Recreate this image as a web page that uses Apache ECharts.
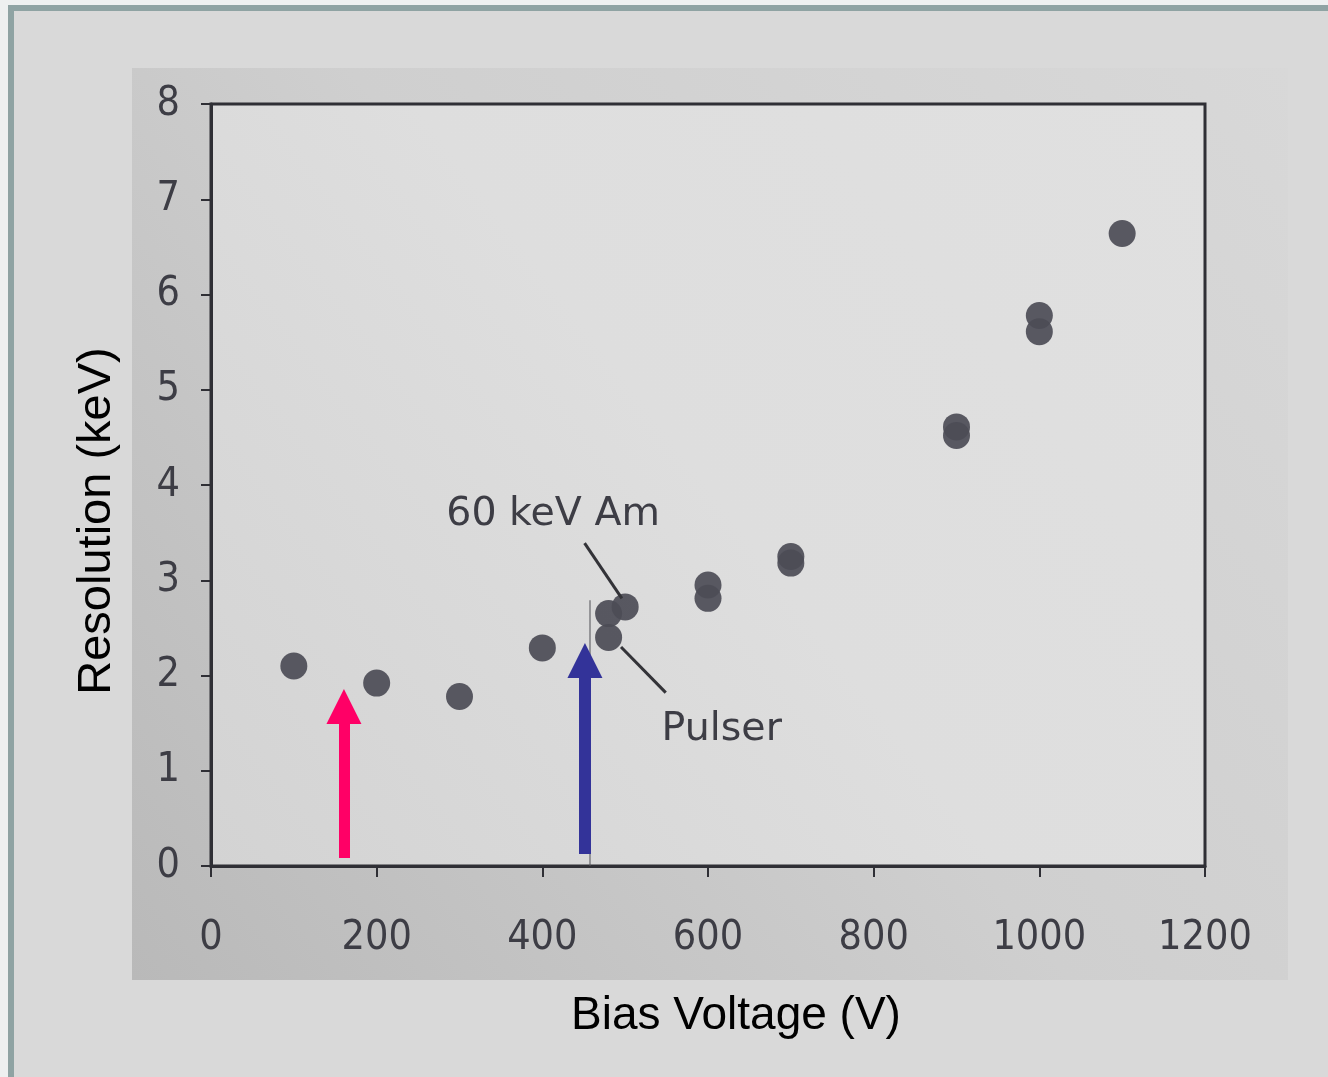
<!DOCTYPE html>
<html><head><meta charset="utf-8">
<script src="https://cdn.jsdelivr.net/npm/echarts@6/dist/echarts.min.js"></script>
<style>html,body{margin:0;padding:0;background:#eef0f0;} #c{width:1328px;height:1077px;}</style>
</head><body><div id="c"></div>
<script>
// ---- data ----
const xAxisRange = [0, 1200];
const yAxisRange = [0, 8];
const amVoltage = [100, 200, 300, 400, 480, 500, 600, 700, 900, 1000, 1100];
const amResolution = [2.10, 1.92, 1.78, 2.29, 2.65, 2.72, 2.95, 3.25, 4.61, 5.78, 6.64];
const pulserVoltage = [480, 600, 700, 900, 1000];
const pulserResolution = [2.40, 2.81, 3.18, 4.52, 5.61];
const annotationLabels = ['60 keV Am', 'Pulser'];
const annotationAnchors = [[284, 3.69], [544, 1.43]];
const leaderLines = [[[451, 3.39], [496, 2.81]], [[495, 2.30], [549, 1.82]]];
const arrowPink = [[160.5, 0.084], [160.5, 1.675]];
const arrowBlue = [[451.4, 0.126], [451.4, 2.157]];
const penMark = [[457.4, 2.79], [457.4, 0.0]];
const xTitle = 'Bias Voltage (V)';
const yTitle = 'Resolution (keV)';

const amData = amVoltage.map((v, i) => [v, amResolution[i]]);
const pulserData = pulserVoltage.map((v, i) => [v, pulserResolution[i]]);

const chart = echarts.init(document.getElementById('c'), null, {renderer: 'canvas'});
const tickFont = "'DejaVu Sans Condensed', 'DejaVu Sans', sans-serif";
const inkColor = '#3d3d45';
const dotStyle = {color: '#4c4c56', opacity: 0.92};

chart.setOption({
  animation: false,
  backgroundColor: 'transparent',
  graphic: [
    {type: 'rect', z: -10, shape: {x: 11, y: 8, width: 1340, height: 1100},
     style: {fill: '#d9d9d9', stroke: '#8fa3a3', lineWidth: 6}},
    {type: 'rect', z: -9, shape: {x: 132, y: 68, width: 1156, height: 912},
     style: {fill: {type: 'linear', x: 0, y: 1, x2: 1, y2: 0,
       colorStops: [{offset: 0, color: '#b9b9b9'}, {offset: 0.5, color: '#cfcfcf'}, {offset: 1, color: '#d8d8d8'}]}}},
    {type: 'text', x: 97, y: 521, rotation: Math.PI / 2,
     style: {text: yTitle, font: "47px 'Liberation Sans', Arial, sans-serif", fill: '#000', align: 'center', verticalAlign: 'middle'}},
    {type: 'text', x: 736, y: 1016,
     style: {text: xTitle, font: "46px 'Liberation Sans', Arial, sans-serif", fill: '#000', align: 'center', verticalAlign: 'middle'}}
  ],
  grid: {left: 211, right: 123, top: 104, bottom: 211, show: true,
    backgroundColor: {type: 'linear', x: 0, y: 1, x2: 1, y2: 0,
      colorStops: [{offset: 0, color: '#d3d3d3'}, {offset: 0.5, color: '#dedede'}, {offset: 1, color: '#e0e0e0'}]},
    borderColor: '#2f2f35', borderWidth: 3},
  xAxis: {
    type: 'value', min: xAxisRange[0], max: xAxisRange[1], interval: 200,
    axisLine: {show: true, onZero: false, lineStyle: {color: '#2f2f35', width: 3}},
    axisTick: {show: true, length: 11, lineStyle: {color: '#2f2f35', width: 2}},
    splitLine: {show: false},
    axisLabel: {margin: 52, fontSize: 41, fontFamily: tickFont, color: inkColor, formatter: v => String(v)}
  },
  yAxis: {
    type: 'value', min: yAxisRange[0], max: yAxisRange[1], interval: 1,
    axisLine: {show: true, onZero: false, lineStyle: {color: '#2f2f35', width: 3}},
    axisTick: {show: true, length: 10, lineStyle: {color: '#2f2f35', width: 2}},
    splitLine: {show: false},
    axisLabel: {margin: 31, fontSize: 41, fontFamily: tickFont, color: inkColor}
  },
  series: [
    {name: '60 keV Am', type: 'scatter', data: amData, symbolSize: 27, itemStyle: dotStyle, z: 3},
    {name: 'Pulser', type: 'scatter', data: pulserData, symbolSize: 27, itemStyle: dotStyle, z: 3},
    {name: 'annotations', type: 'scatter', data: [], clip: false, z: 4,
     markLine: {
       silent: true, animation: false,
       label: {show: false},
       data: [
         [{coord: leaderLines[0][0], symbol: 'none', lineStyle: {color: '#333338', width: 3, type: 'solid'}},
          {coord: leaderLines[0][1], symbol: 'none'}],
         [{coord: leaderLines[1][0], symbol: 'none', lineStyle: {color: '#333338', width: 3, type: 'solid'}},
          {coord: leaderLines[1][1], symbol: 'none'}],
         [{coord: penMark[0], symbol: 'none', lineStyle: {color: '#55555c', width: 1.5, type: 'solid', opacity: 0.7}},
          {coord: penMark[1], symbol: 'none'}],
         [{coord: arrowPink[0], symbol: 'none', lineStyle: {color: '#ff0066', width: 11, type: 'solid', cap: 'butt'}},
          {coord: arrowPink[1], symbol: 'triangle', symbolSize: [35, 35], itemStyle: {color: '#ff0066'}}],
         [{coord: arrowBlue[0], symbol: 'none', lineStyle: {color: '#333399', width: 12, type: 'solid', cap: 'butt'}},
          {coord: arrowBlue[1], symbol: 'triangle', symbolSize: [35, 35], itemStyle: {color: '#333399'}}]
       ]
     },
     markPoint: {
       silent: true, animation: false, symbol: 'circle', symbolSize: 0,
       label: {show: true, position: 'right', distance: 0, fontSize: 39.5,
         fontFamily: "'DejaVu Sans', sans-serif", color: inkColor, formatter: p => p.name},
       data: annotationLabels.map((t, i) => ({name: t, coord: annotationAnchors[i]}))
     }
    }
  ]
});
</script>
</body></html>
